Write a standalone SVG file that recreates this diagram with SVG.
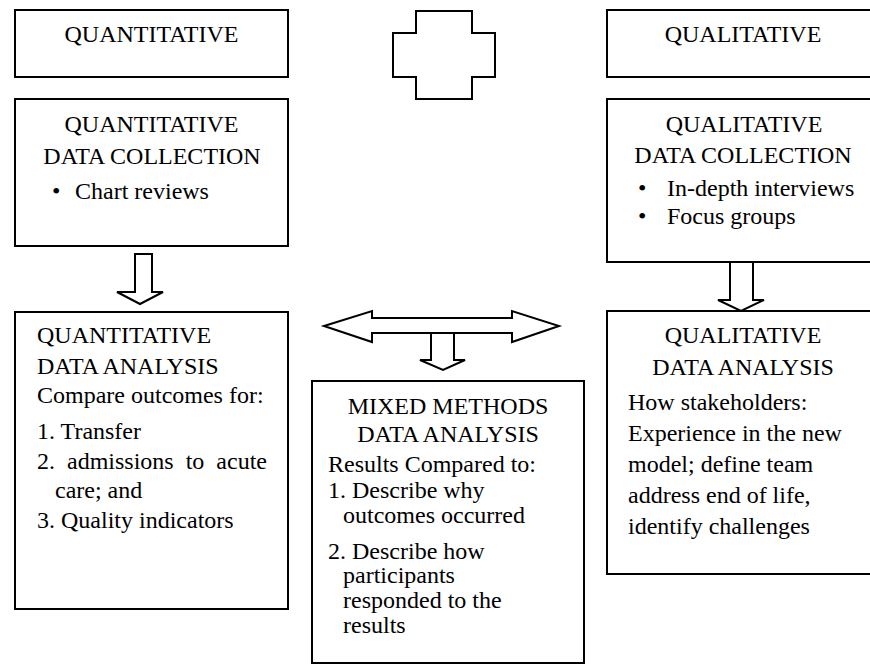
<svg xmlns="http://www.w3.org/2000/svg" width="870" height="664" viewBox="0 0 870 664">
  <style>
    .box { fill: #ffffff; stroke: #000000; stroke-width: 2; }
    .shape { fill: #ffffff; stroke: #000000; stroke-width: 2; stroke-linejoin: miter; }
    text { font-family: "Liberation Serif", "Times New Roman", serif; font-size: 24px; fill: #000000; }
    .c { text-anchor: middle; }
  </style>
  <rect width="870" height="664" fill="#ffffff"/>

  <!-- Quantitative strand -->
  <g id="quantitative">
    <rect class="box" x="15" y="10" width="273" height="67"/>
    <text class="c" x="151.5" y="42">QUANTITATIVE</text>
  </g>

  <g id="quant-collection">
    <rect class="box" x="15" y="99" width="273" height="147"/>
    <text class="c" x="151.5" y="132">QUANTITATIVE</text>
    <text class="c" x="152" y="164">DATA COLLECTION</text>
    <text x="52" y="199">•</text>
    <text x="75" y="199">Chart reviews</text>
  </g>

  <g id="quant-analysis">
    <rect class="box" x="15" y="312" width="273" height="297"/>
    <text x="37" y="343">QUANTITATIVE</text>
    <text x="37" y="374">DATA ANALYSIS</text>
    <text x="37" y="403">Compare outcomes for:</text>
    <text x="37" y="439">1. Transfer</text>
    <text x="37" y="469" word-spacing="6">2. admissions to acute</text>
    <text x="55" y="498">care; and</text>
    <text x="37" y="528">3. Quality indicators</text>
  </g>

  <!-- Merge symbol -->
  <g id="merge">
    <polygon class="shape" points="416,11 472,11 472,33 495,33 495,77 472,77 472,99 416,99 416,77 393,77 393,33 416,33"/>
  </g>

  <!-- Qualitative strand -->
  <g id="qualitative">
    <rect class="box" x="607" y="10" width="273" height="67"/>
    <text class="c" x="743" y="42">QUALITATIVE</text>
  </g>

  <g id="qual-collection">
    <rect class="box" x="607" y="99" width="273" height="163"/>
    <text class="c" x="744" y="132">QUALITATIVE</text>
    <text class="c" x="743" y="163">DATA COLLECTION</text>
    <text x="638" y="196">•</text>
    <text x="667" y="196">In-depth interviews</text>
    <text x="638" y="224">•</text>
    <text x="667" y="224">Focus groups</text>
  </g>

  <g id="qual-analysis">
    <rect class="box" x="607" y="311" width="273" height="263"/>
    <text class="c" x="743" y="343">QUALITATIVE</text>
    <text class="c" x="743" y="375">DATA ANALYSIS</text>
    <text x="628" y="410">How stakeholders:</text>
    <text x="628" y="441">Experience in the new</text>
    <text x="628" y="472">model; define team</text>
    <text x="628" y="503">address end of life,</text>
    <text x="628" y="534">identify challenges</text>
  </g>

  <!-- Integration -->
  <g id="mixed-analysis">
    <rect class="box" x="312" y="381" width="272" height="282"/>
    <text class="c" x="448" y="414">MIXED METHODS</text>
    <text class="c" x="448" y="442">DATA ANALYSIS</text>
    <text x="328" y="472">Results Compared to:</text>
    <text x="328" y="498">1. Describe why</text>
    <text x="343" y="523">outcomes occurred</text>
    <text x="328" y="559">2. Describe how</text>
    <text x="343" y="583">participants</text>
    <text x="343" y="608">responded to the</text>
    <text x="343" y="633">results</text>
  </g>

  <!-- Block arrows -->
  <g id="connectors">
    <polygon class="shape" points="135,254 152,254 152,292 163,292 140,304 117,292 135,292"/>
    <polygon class="shape" points="730,262 753,262 753,300 764,300 741,311 718,300 730,300"/>
    <polygon class="shape" points="324,326 372,311 372,318 512,318 512,311 559,326 512,342 512,333 372,333 372,342"/>
    <polygon class="shape" points="431,333 454,333 454,360 465,360 443,370 420,360 431,360"/>
  </g>
</svg>
